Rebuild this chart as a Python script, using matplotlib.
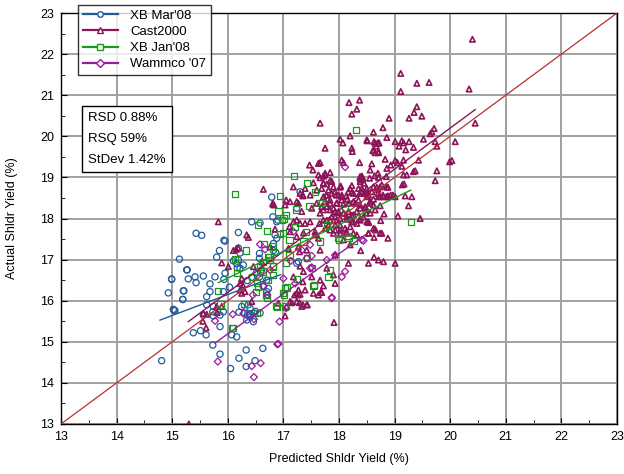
import matplotlib
matplotlib.use("Agg")
import matplotlib.pyplot as plt
from matplotlib.lines import Line2D
from matplotlib.ticker import MultipleLocator

plt.rcParams['font.family'] = ['Liberation Sans', 'DejaVu Sans']

# ---- data (predicted, actual) ----
mar08_x = [14.81, 14.93, 15.2, 15.19, 15.02, 15.05, 15.38, 15.51, 15.61, 15.73, 15.86, 15.56,
           15.74, 15.86, 16.2, 16.3, 16.4, 16.5, 16.58, 16.07, 16.16, 16.33, 16.49, 16.33, 16.63,
           16.34, 16.4, 16.46, 16.79, 17.3, 17.24, 16.81, 16.88, 16.9, 16.43, 16.58, 16.19, 15.43,
           15.53, 15.93, 15.85, 15.8, 15.13, 15.26, 15.43, 15.29, 15.56, 14.99, 15.21, 15.19, 15.03,
           15.68, 15.77, 15.95, 15.93, 16.03, 16.19, 16.22, 16.19, 16.1, 16.16, 16.17, 16.35, 16.43,
           16.51, 16.57, 16.61, 16.7, 16.85, 16.88, 16.82, 16.82, 16.86, 16.57, 16.57, 16.22, 16.28,
           15.62, 15.68, 15.92, 15.74, 15.73, 15.62, 15.86, 15.92, 16.25, 16.37, 16.4, 16.35, 16.4,
           16.47, 16.64, 16.73, 16.7, 17.24, 17.27, 14.99, 15.27, 15.41, 15.95, 16.05, 16.2]
mar08_y = [14.54, 16.19, 16.24, 16.03, 15.79, 15.76, 15.22, 15.27, 15.17, 14.92, 14.7, 15.65,
           15.63, 15.37, 15.72, 15.7, 15.68, 15.74, 15.7, 15.17, 15.12, 14.8, 14.54, 14.4, 14.84,
           15.53, 15.6, 15.49, 18.52, 18.65, 18.25, 18.04, 17.92, 17.96, 17.92, 17.89, 17.66, 17.64,
           17.59, 17.47, 17.22, 17.06, 17.01, 16.75, 16.44, 16.53, 16.6, 16.53, 16.24, 16.03, 15.77,
           16.41, 16.58, 16.67, 16.52, 16.33, 17.28, 17.16, 16.99, 16.97, 16.9, 16.8, 16.49, 16.57,
           16.67, 16.58, 16.75, 16.5, 17.6, 17.52, 17.39, 17.22, 17.18, 17.15, 17.03, 16.79, 16.87,
           16.1, 16.22, 16.22, 15.86, 15.73, 15.9, 15.65, 15.73, 15.86, 15.9, 15.82, 15.65, 15.65,
           15.7, 16.34, 16.3, 16.22, 16.91, 16.95, 16.52, 16.75, 16.58, 17.45, 14.35, 14.6]

cast_x = [15.3, 20.4, 20.34, 20.45, 19.11, 19.4, 19.62, 19.11, 19.4, 19.35, 19.49, 19.26, 18.9,
          18.79, 18.62, 19.71, 19.67, 19.64, 20.09, 19.52, 18.5, 18.63, 18.71, 18.67, 18.86, 19.01,
          19.13, 19.16, 19.26, 19.08, 19.2, 19.34, 19.73, 19.76, 18.61, 18.65, 18.71, 18.83, 19.01,
          19.05, 19.16, 19.43, 19.99, 20.03, 18.59, 18.56, 18.86, 18.93, 19.13, 19.16, 19.22, 19.34,
          19.37, 19.76, 18.71, 18.85, 18.41, 18.18, 18.37, 18.32, 18.23, 18.2, 18.02, 18.07, 18.51,
          18.65, 18.69, 18.72, 17.75, 18.23, 18.24, 18.62, 18.71, 17.66, 18.05, 18.08, 17.84, 17.75,
          18.37, 18.41, 18.38, 18.43, 19.17, 19.14, 19.73, 19.01, 18.85, 18.93, 18.71, 18.8, 19.19,
          19.31, 19.25, 19.06, 19.46, 18.75, 18.81, 18.53, 18.65, 18.74, 18.63, 18.39, 18.63, 19.01,
          18.38, 18.41, 18.45, 18.55, 18.64, 18.7, 18.7, 18.79, 18.88, 18.74, 18.86, 18.47, 18.53,
          18.56, 18.62, 18.74, 18.47, 18.5, 18.53, 18.38,
          16.64, 16.81, 17.03, 17.05, 17.24, 17.3, 17.18, 17.39, 17.35, 17.54, 17.72, 17.87, 17.81,
          18.02, 17.95, 18.05, 18.13, 18.2, 18.23, 18.37, 18.38, 18.41, 18.5, 18.7, 18.88, 18.88,
          18.97, 17.75, 17.84, 17.96, 18.05, 18.15, 18.29, 18.38, 18.56, 17.51, 17.66, 17.72, 17.84,
          17.93, 17.99, 18.08, 18.17, 18.26, 18.38, 18.49, 17.18, 17.3, 17.48, 17.65, 17.81, 17.93,
          18.02, 18.23, 17.87, 17.96, 18.14, 16.85, 17.11, 17.12, 17.24, 17.36, 17.57, 17.63, 17.75,
          17.93, 18.02, 18.13, 18.32, 18.53, 18.65, 18.77, 18.88, 16.76, 17.09, 17.27, 17.29, 17.42,
          17.66, 17.93, 18.17, 18.53, 18.71, 18.8, 17.3, 17.36, 17.18, 17.35, 17.51, 17.66, 17.78,
          17.9, 17.93, 17.72, 17.54, 17.63, 17.24, 17.39, 17.27, 17.3, 17.2, 17.27, 17.12, 17.15,
          17.29, 17.35, 17.43, 17.67, 17.03, 16.91, 17.91,
          15.83, 16.34, 16.37, 16.1, 16.15, 16.19, 15.89, 16.01, 16.25, 16.22, 16.31, 16.25, 16.22,
          16.46, 16.61, 16.81, 16.83, 17.12, 17.27, 17.33, 17.35, 17.47, 17.63, 17.63, 17.75, 17.72,
          17.6, 17.69, 17.78, 17.24, 17.39, 17.57, 17.78, 17.24, 17.33, 17.42, 17.69, 17.06, 16.43,
          16.27, 15.56, 15.62, 15.89, 15.55, 15.61, 15.8, 15.81, 17.53, 17.66, 17.48, 17.77, 17.6,
          17.66,
          17.72, 17.84, 17.78, 17.69, 17.9, 18.03, 17.93, 17.72, 17.78, 17.87, 17.99, 18.05, 18.17,
          18.23, 18.38, 18.35, 18.26, 18.41, 18.5, 18.59, 18.62, 18.68, 18.77, 18.86, 18.74, 18.62,
          18.5, 18.35, 18.26, 18.17, 18.08, 17.96, 17.84, 17.78, 17.9, 17.99, 18.08, 17.93, 17.84,
          17.72, 18.02, 18.14, 18.23, 18.32, 18.38, 18.47, 18.56, 18.26, 18.32, 18.2, 18.11, 18.02,
          18.44, 18.5, 18.65, 18.56, 18.26, 17.9, 17.84, 18.14, 18.08, 18.2, 18.62, 18.53]
cast_y = [13.0, 22.36, 21.15, 20.32, 21.53, 21.29, 21.31, 21.09, 20.72, 20.58, 20.49, 20.44, 20.44,
          20.21, 20.1, 20.19, 20.11, 20.06, 19.87, 19.93, 19.91, 19.87, 19.84, 19.76, 19.97, 19.87,
          19.89, 19.84, 19.87, 19.76, 19.67, 19.73, 19.87, 19.76, 19.65, 19.6, 19.63, 19.44, 19.41,
          19.36, 19.42, 19.42, 19.38, 19.41, 19.33, 19.18, 19.22, 19.3, 19.27, 19.06, 19.06, 19.14,
          19.16, 19.16, 19.0, 19.02, 19.02, 20.82, 20.88, 20.66, 20.54, 20.01, 19.93, 19.84, 19.89,
          19.83, 19.83, 19.84, 19.71, 19.71, 19.63, 19.65, 19.6, 19.36, 19.42, 19.36, 19.12, 19.06,
          19.36, 19.03, 18.98, 18.98, 18.84, 18.82, 18.92, 18.53, 18.53, 18.57, 18.53, 18.53, 18.55,
          18.53, 18.31, 18.06, 18.0, 17.95, 18.11, 17.9, 17.74, 17.64, 17.54, 17.22, 17.06, 16.91,
          19.02, 18.94, 18.86, 18.98, 19.04, 19.1, 18.61, 18.57, 18.55, 18.77, 18.77, 18.61, 18.57,
          18.41, 18.33, 18.31, 18.25, 18.21, 17.92, 17.96,
          18.71, 18.35, 18.33, 18.45, 18.41, 18.61, 18.77, 18.73, 18.57, 18.87, 18.86, 18.9, 18.69,
          18.76, 18.57, 18.57, 18.55, 18.73, 18.63, 18.61, 18.9, 18.73, 18.61, 18.71, 18.76, 18.53,
          18.57, 18.41, 18.45, 18.38, 18.45, 18.47, 18.37, 18.33, 18.41, 18.25, 18.13, 18.21, 18.21,
          18.17, 18.14, 18.13, 18.17, 18.09, 18.0, 18.13, 17.92, 17.88, 17.92, 17.88, 17.84, 17.84,
          17.84, 17.92, 18.04, 17.96, 17.98, 17.74, 17.8, 17.68, 17.56, 17.65, 17.6, 17.52, 17.76,
          17.72, 17.64, 17.68, 17.6, 17.64, 17.72, 17.64, 17.52, 17.31, 17.27, 17.31, 17.19, 17.23,
          17.23, 17.11, 16.91, 16.91, 16.99, 16.95, 16.84, 16.71, 16.58, 16.46, 16.58, 16.5, 16.79,
          16.63, 16.42, 16.36, 16.18, 16.14, 16.18, 16.26, 16.26, 16.16, 16.14, 16.14, 15.98, 15.95,
          15.95, 15.9, 15.9, 16.2, 15.63, 15.94, 15.47,
          17.92, 17.6, 17.54, 17.22, 17.25, 17.28, 16.92, 16.83, 16.54, 16.42, 16.22, 16.18, 16.26,
          16.83, 16.95, 18.37, 18.33, 18.41, 18.37, 18.17, 18.55, 19.3, 19.34, 19.06, 19.1, 18.86,
          18.37, 18.29, 18.29, 17.96, 17.88, 17.68, 17.96, 15.98, 15.86, 15.9, 16.2, 15.86, 15.98,
          16.38, 15.69, 15.67, 15.86, 15.5, 15.34, 15.86, 15.71, 19.18, 18.99, 18.57, 18.57, 18.69,
          20.32,
          19.03, 18.92, 18.84, 18.73, 18.77, 18.79, 18.65, 18.53, 18.57, 18.61, 18.57, 18.53, 18.65,
          18.8, 18.98, 18.73, 18.61, 18.65, 18.73, 18.65, 18.77, 18.76, 18.82, 18.77, 18.53, 18.47,
          18.53, 18.45, 18.41, 18.37, 18.35, 18.37, 18.37, 18.29, 18.25, 18.17, 18.13, 18.04, 17.96,
          17.96, 18.0, 18.04, 18.08, 18.17, 18.25, 18.29, 18.37, 17.92, 17.88, 17.8, 17.76, 17.72,
          18.04, 17.92, 18.21, 18.13, 17.64, 17.64, 17.72, 17.64, 17.48, 17.36, 17.76, 17.64]

jan08_x = [16.13, 17.19, 17.43, 17.57, 17.69, 17.47, 16.94, 16.91, 17.0, 17.05, 16.97, 17.23,
           16.55, 16.71, 16.94, 16.99, 17.11, 17.21, 17.41, 17.66, 16.33, 16.65, 16.75, 16.82, 16.13,
           16.17, 16.58, 16.58, 16.43, 16.53, 16.55, 16.51, 16.72, 17.05, 17.24, 17.06, 17.42, 17.55,
           15.83, 15.87, 16.29, 16.52, 16.69, 16.7, 16.88, 17.03, 16.07, 16.1, 17.99, 18.17, 17.36,
           16.82, 16.72, 16.75, 16.64, 17.11, 16.64, 16.82, 16.82, 17.51, 17.84, 17.81, 17.54, 18.31,
           18.11, 18.42, 17.78, 17.66, 19.29, 18.0, 18.17, 18.26, 17.03, 17.01, 16.99, 16.69, 16.87]
jan08_y = [18.6, 19.04, 18.87, 18.64, 18.38, 18.3, 18.55, 18.17, 18.0, 18.09, 17.96, 18.22,
           17.84, 17.7, 17.62, 17.65, 17.48, 17.79, 17.68, 17.44, 17.22, 17.38, 17.05, 16.84, 17.01,
           16.67, 16.83, 16.71, 16.58, 16.44, 16.34, 16.22, 16.5, 16.91, 16.52, 16.32, 17.03, 16.38,
           16.24, 15.91, 15.92, 15.71, 16.14, 16.06, 15.86, 15.86, 15.33, 15.34, 17.52, 17.57, 17.44,
           17.32, 17.07, 16.99, 16.95, 17.11, 16.71, 16.63, 16.83, 16.79, 16.75, 16.58, 16.36, 20.15,
           18.25, 18.11, 17.84, 18.38, 17.92, 17.47, 17.53, 17.45, 16.3, 16.14, 16.18, 16.14, 15.87]

wammco_x = [16.45, 16.71, 16.09, 16.28, 16.47, 15.77, 16.89, 16.93, 15.82, 16.43, 16.59, 16.47,
            17.05, 16.91, 17.87, 16.58, 16.67, 17.18, 17.33, 17.51, 17.78, 17.48, 17.13, 16.76,
            16.64, 18.44, 17.48, 17.42, 18.11, 18.05, 17.51, 17.0, 17.21, 17.87, 18.11, 18.41, 17.93]
wammco_y = [16.14, 16.14, 15.67, 15.69, 15.55, 15.51, 14.94, 15.49, 14.52, 14.41, 14.48, 14.14,
            15.82, 14.95, 16.06, 17.37, 17.25, 17.68, 17.23, 17.09, 16.99, 16.79, 16.97, 16.75,
            16.36, 17.46, 17.36, 17.03, 16.71, 16.58, 16.81, 16.54, 16.42, 16.08, 19.25, 17.48, 17.11]

# fitted trend lines: x start, x end, slope, intercept
fit_names = ["XB Mar'08", "Cast2000", "XB Jan'08", "Wammco '07"]
fit_x0 = [14.78, 15.29, 15.83, 15.77]
fit_x1 = [16.95, 20.45, 19.29, 18.47]
fit_slope = [0.51, 1.0, 0.65, 0.974]
fit_icpt = [7.99, 0.2, 6.15, -0.39]

stats_text = "RSD 0.88%\nRSQ 59%\nStDev 1.42%"

c_blue = '#1f5b9c'
c_cast = '#8c1458'
c_green = '#1a9a1a'
c_purp = '#9c1a9c'
colors = [c_blue, c_cast, c_green, c_purp]
markers = ['o', '^', 's', 'D']

fig = plt.figure(figsize=(6.24, 4.74), dpi=100)
ax = fig.add_axes([61/624, 1-424/474, 556/624, 411/474])

ax.scatter(mar08_x, mar08_y, s=20, marker='o', facecolors='none', edgecolors=c_blue, linewidths=0.9, zorder=3)
ax.scatter(cast_x, cast_y, s=15, marker='^', facecolors='none', edgecolors=c_cast, linewidths=1.2, zorder=3)
ax.scatter(jan08_x, jan08_y, s=20, marker='s', facecolors='none', edgecolors=c_green, linewidths=0.9, zorder=4)
ax.scatter(wammco_x, wammco_y, s=13, marker='D', facecolors='none', edgecolors=c_purp, linewidths=0.9, zorder=4)

for i in range(4):
    xs = [fit_x0[i], fit_x1[i]]
    ys = [fit_slope[i]*v + fit_icpt[i] for v in xs]
    ax.plot(xs, ys, color=colors[i], lw=1.0, zorder=5)

# 1:1 line
ax.plot([13, 23], [13, 23], color='#b83030', lw=0.9, zorder=5)

ax.set_xlim(13, 23)
ax.set_ylim(13, 23)
ax.xaxis.set_major_locator(MultipleLocator(1))
ax.yaxis.set_major_locator(MultipleLocator(1))
ax.xaxis.set_minor_locator(MultipleLocator(0.5))
ax.yaxis.set_minor_locator(MultipleLocator(0.5))
ax.grid(True, which='major', color='#a0a0a0', lw=1.4)
ax.set_axisbelow(True)
ax.tick_params(which='major', direction='in', length=4, labelsize=9, color='black', pad=5)
ax.tick_params(which='minor', direction='in', length=3, color='black')
for s in ax.spines.values():
    s.set_linewidth(1.0)
ax.set_xlabel("Predicted Shldr Yield (%)", fontsize=9, labelpad=7)
ax.set_ylabel("Actual Shldr Yield (%)", fontsize=9, labelpad=16)

handles = [Line2D([], [], color=colors[i], marker=markers[i], ms=4, mfc='white',
                  mec=colors[i], lw=1.6) for i in range(4)]
leg = fig.legend(handles, fit_names, loc='upper left', bbox_to_anchor=(78/624, 1-5/474),
                 borderaxespad=0, fontsize=9.5, frameon=True, fancybox=False, edgecolor='black',
                 handlelength=2.7, borderpad=0.35, labelspacing=0.3, handletextpad=0.9)
leg.get_frame().set_linewidth(1.0)

ax.text(0.049, 0.76, stats_text, transform=ax.transAxes, fontsize=9.5, va='top', ha='left',
        linespacing=2.0, zorder=6,
        bbox=dict(boxstyle='square,pad=0.45', fc='white', ec='black', lw=1.0))

fig.savefig("out.png", dpi=100)
